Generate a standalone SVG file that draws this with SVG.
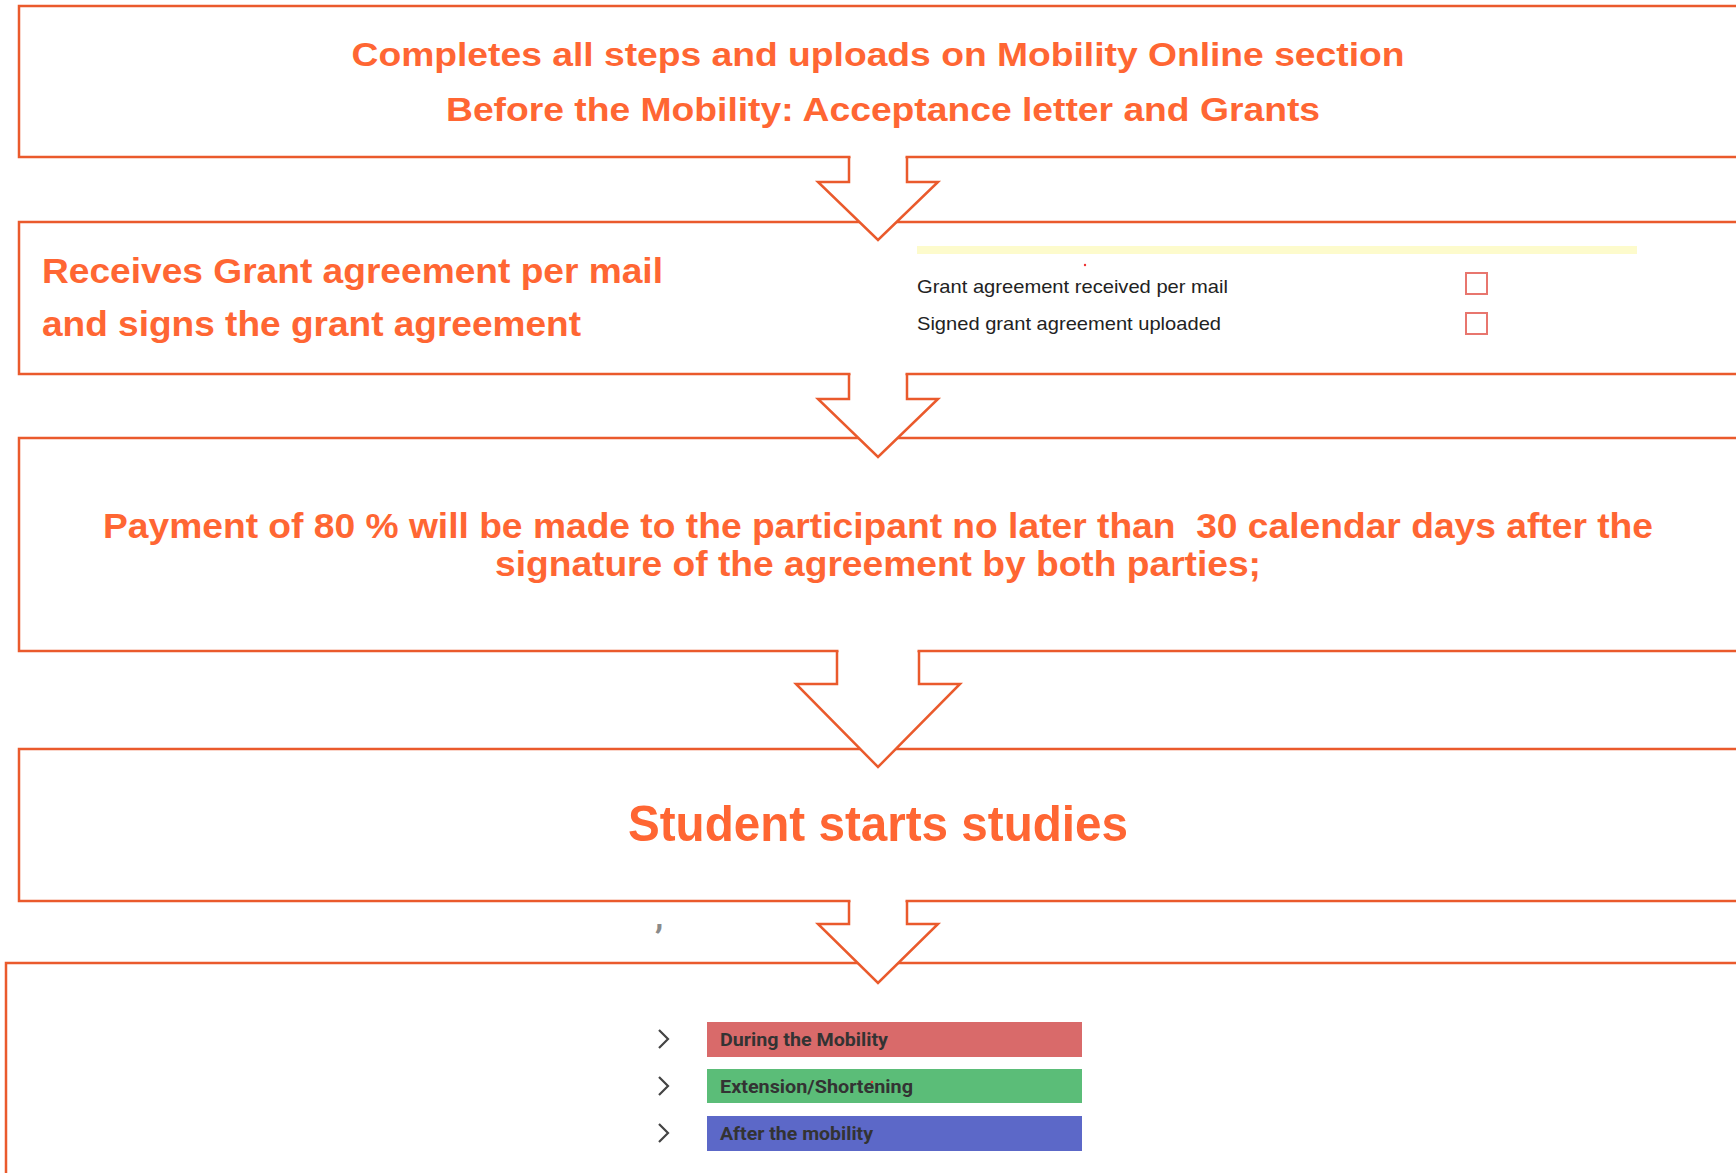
<svg xmlns="http://www.w3.org/2000/svg" width="1736" height="1173" viewBox="0 0 1736 1173">
<style>
.box{fill:none;stroke:#ea5a2c;stroke-width:2.5}
.af{fill:#fff;stroke:none}
.as{fill:none;stroke:#ea5a2c;stroke-width:2.5;stroke-linejoin:miter}
.t{font-family:"Liberation Sans",Arial,sans-serif;font-weight:bold;fill:#ff6633}
.c{font-family:"Liberation Sans Narrow","Liberation Sans",Arial,sans-serif;font-size:19px;fill:#222}
.chk{fill:#fff;stroke:#e8766e;stroke-width:2}
.bt{font-family:Roboto,"Liberation Sans",sans-serif;font-weight:bold;font-size:19px;fill:#333}
.chev{fill:none;stroke:#444;stroke-width:2.2}
</style>
<rect width="1736" height="1173" fill="#fff"/>
<g id="node1">
<rect class="box" x="19" y="6" width="1740" height="151"/>
<text class="t" x="878" y="66" font-size="34" text-anchor="middle" textLength="1053" lengthAdjust="spacingAndGlyphs">Completes all steps and uploads on Mobility Online section</text>
<text class="t" x="883" y="120.5" font-size="34" text-anchor="middle" textLength="874" lengthAdjust="spacingAndGlyphs">Before the Mobility: Acceptance letter and Grants</text>
</g>
<g id="node2">
<rect class="box" x="19" y="222" width="1740" height="152"/>
<text class="t" x="42" y="282.5" font-size="35" textLength="621" lengthAdjust="spacingAndGlyphs">Receives Grant agreement per mail</text>
<text class="t" x="42" y="335.5" font-size="35" textLength="539" lengthAdjust="spacingAndGlyphs">and signs the grant agreement</text>
<rect x="917" y="246" width="720" height="8" fill="#fdfbcc"/>
<circle cx="1085" cy="265" r="1.2" fill="#e33"/>
<text class="c" x="917" y="293" textLength="311" lengthAdjust="spacingAndGlyphs">Grant agreement received per mail</text>
<text class="c" x="917" y="330" textLength="304" lengthAdjust="spacingAndGlyphs">Signed grant agreement uploaded</text>
<rect class="chk" x="1466" y="273" width="21" height="21"/>
<rect class="chk" x="1466" y="313" width="21" height="21"/>
</g>
<g id="node3">
<rect class="box" x="19" y="438" width="1740" height="213"/>
<text class="t" x="878" y="537.5" font-size="35" text-anchor="middle" textLength="1550" lengthAdjust="spacingAndGlyphs" style="white-space:pre">Payment of 80 % will be made to the participant no later than  30 calendar days after the</text>
<text class="t" x="878" y="576" font-size="35" text-anchor="middle" textLength="766" lengthAdjust="spacingAndGlyphs">signature of the agreement by both parties;</text>
</g>
<g id="node4">
<rect class="box" x="19" y="749" width="1740" height="152"/>
<text class="t" x="878" y="841" font-size="50" text-anchor="middle" textLength="500" lengthAdjust="spacingAndGlyphs">Student starts studies</text>
<text x="655" y="928" font-family="Roboto,'Liberation Sans',sans-serif" font-weight="bold" font-size="34" fill="#8a8a8a">,</text>
</g>
<g id="node5">
<rect class="box" x="6" y="963" width="1760" height="240"/>
<path class="chev" d="M659 1030 L668 1039 L659 1048"/>
<path class="chev" d="M659 1077 L668 1086 L659 1095"/>
<path class="chev" d="M659 1124 L668 1133 L659 1142"/>
<rect x="707" y="1022" width="375" height="35" fill="#d96a6a"/>
<rect x="707" y="1069" width="375" height="34" fill="#5bbd78"/>
<rect x="707" y="1116" width="375" height="35" fill="#5c68c8"/>
<text class="bt" x="720" y="1046" textLength="168" lengthAdjust="spacingAndGlyphs">During the Mobility</text>
<text class="bt" x="720" y="1093" textLength="193" lengthAdjust="spacingAndGlyphs">Extension/Shortening</text>
<text class="bt" x="720" y="1140" textLength="153" lengthAdjust="spacingAndGlyphs">After the mobility</text>
<circle cx="872" cy="1082" r="1.2" fill="#e33"/>
</g>
<g id="connectors">
<polygon class="af" points="850.5,154 850.5,182 818,182 878,240 938,182 905.5,182 905.5,154"/>
<polyline class="as" points="849,157 849,182 818,182 878,240 938,182 907,182 907,157"/>
<polygon class="af" points="850.5,371 850.5,399 818,399 878,457 938,399 905.5,399 905.5,371"/>
<polyline class="as" points="849,374 849,399 818,399 878,457 938,399 907,399 907,374"/>
<polygon class="af" points="838.5,648 838.5,684 796,684 878,767 960,684 917.5,684 917.5,648"/>
<polyline class="as" points="837,651 837,684 796,684 878,767 960,684 919,684 919,651"/>
<polygon class="af" points="850.5,898 850.5,924 818,924 878,983 938,924 905.5,924 905.5,898"/>
<polyline class="as" points="849,901 849,924 818,924 878,983 938,924 907,924 907,901"/>
</g>
</svg>
